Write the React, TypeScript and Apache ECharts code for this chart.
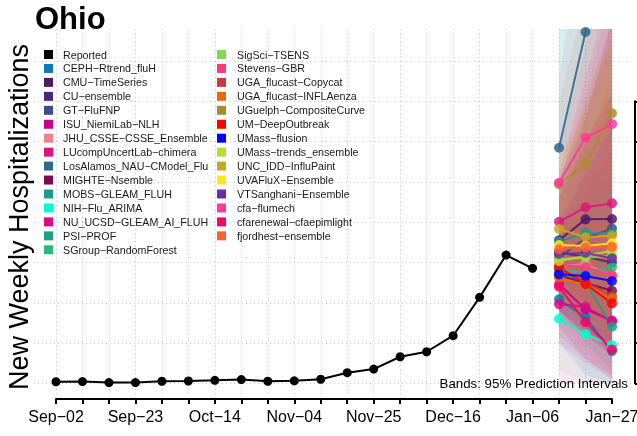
import React, { useEffect, useRef } from "react";
import * as echarts from "echarts";

const dates = [
  "Sep-02", "Sep-09", "Sep-16", "Sep-23", "Sep-30", "Oct-07", "Oct-14", "Oct-21",
  "Oct-28", "Nov-04", "Nov-11", "Nov-18", "Nov-25", "Dec-02", "Dec-09", "Dec-16",
  "Dec-23", "Dec-30", "Jan-06", "Jan-13", "Jan-20", "Jan-27",
];
const reported = [20, 22, 10, 9, 26, 29, 37, 47, 26, 31, 51, 132, 177, 330, 392, 591, 1067, 1592, 1427];
const forecastDates = ["Jan-13", "Jan-20", "Jan-27"];

const models = [
  "CEPH-Rtrend_fluH", "CMU-TimeSeries", "CU-ensemble", "GT-FluFNP", "ISU_NiemiLab-NLH",
  "JHU_CSSE-CSSE_Ensemble", "LUcompUncertLab-chimera", "LosAlamos_NAU-CModel_Flu",
  "MIGHTE-Nsemble", "MOBS-GLEAM_FLUH", "NIH-Flu_ARIMA", "NU_UCSD-GLEAM_AI_FLUH", "PSI-PROF",
  "SGroup-RandomForest", "SigSci-TSENS", "Stevens-GBR", "UGA_flucast-Copycat",
  "UGA_flucast-INFLAenza", "UGuelph-CompositeCurve", "UM-DeepOutbreak", "UMass-flusion",
  "UMass-trends_ensemble", "UNC_IDD-InfluPaint", "UVAFluX-Ensemble", "VTSanghani-Ensemble",
  "cfa-flumech", "cfarenewal-cfaepimlight", "fjordhest-ensemble",
];
const modelColors = [
  "#0b7ab5", "#4b1a6b", "#472a7a", "#3b4f8a", "#c9008a",
  "#e8858f", "#e0157f", "#2d6a8e",
  "#7a0a55", "#1e9a8a", "#00ffd0", "#dd0a85", "#1fa085",
  "#2db87a", "#82d94a", "#ff3a7a", "#cc3a3a",
  "#e86a00", "#ab8b30", "#ff0000", "#0000ff",
  "#b0e030", "#c8a820", "#ffe620", "#6a2fa0",
  "#ff3a9a", "#ff0066", "#ff6030",
];
// median forecasts for Jan-13, Jan-20, Jan-27
const median = [
  [1042, 820, 400], [1776, 2035, 2039], [1620, 1570, 1500], [1560, 1800, 1920], [1230, 920, 780],
  [1450, 1480, 1330], [2005, 2184, 2234], [2924, 4360, 6500],
  [1340, 1245, 1149], [1757, 1869, 1860], [801, 608, 474], [984, 951, 764], [1381, 1257, 702],
  [1400, 1380, 1440], [1540, 1560, 1580], [1470, 1440, 1340], [1420, 1260, 1080],
  [1310, 1220, 1055], [2470, 2725, 3351], [1440, 1232, 993], [1353, 1332, 1270],
  [1518, 1580, 1646], [1915, 1812, 1832], [1716, 1704, 1737], [1605, 1617, 1551],
  [2489, 3048, 3218], [1200, 760, 420], [1663, 1688, 1695],
];
const lower95 = [
  [500, 100, 0], [1200, 1000, 700], [1000, 700, 400], [1000, 800, 500], [700, 300, 50],
  [800, 400, 100], [1300, 1000, 700], [1800, 2500, 3000],
  [900, 600, 350], [1200, 1000, 700], [150, 30, 0], [500, 250, 50], [900, 500, 150],
  [900, 600, 400], [1000, 700, 450], [900, 600, 350], [600, 300, 100],
  [850, 600, 350], [1700, 1500, 1500], [1050, 700, 400], [900, 650, 400],
  [1000, 800, 600], [1200, 900, 600], [1000, 700, 500], [1100, 850, 600],
  [1200, 800, 300], [0, 0, 0], [1150, 950, 700],
];
const upper95 = [
  [1700, 2200, 2600], [2500, 3500, 4500], [2300, 3000, 3800], [2300, 3300, 4500], [2000, 2800, 3600],
  [2500, 3600, 4800], [2900, 4200, 5500], [4600, 7000, 10000],
  [1900, 2400, 2900], [2500, 3300, 4200], [4600, 5500, 6500], [1800, 2600, 3300], [1900, 2300, 2200],
  [2000, 2500, 3000], [2200, 3000, 3800], [2300, 3300, 4500], [2500, 3400, 4300],
  [1900, 2500, 3000], [3500, 4800, 6200], [1900, 2000, 2000], [2000, 2600, 3200],
  [2300, 3200, 4200], [2800, 3400, 4200], [2700, 3500, 4400], [2300, 3000, 3600],
  [3800, 5800, 7800], [2600, 3800, 5000], [2300, 3000, 3700],
];
const gridTicks = [0, 4000, 500];
const rightAxisRange = [0, 3500, 500];

const FONT = "'Liberation Sans', Arial, Helvetica, sans-serif";
const dash = (s: string) => s.replace(/-/g, "\u2212");

export default function App() {
  const ref = useRef<HTMLDivElement>(null);
  useEffect(() => {
    if (!ref.current) return;
    const chart = echarts.init(ref.current, undefined, { renderer: "svg" });
    const fIdx = forecastDates.map((d) => dates.indexOf(d));

    const bandSeries: any = {
      type: "custom",
      name: "bands",
      xAxisIndex: 0,
      yAxisIndex: 0,
      clip: true,
      z: 2,
      silent: true,
      data: models.map((_, i) => [fIdx[0], 0, i]),
      encode: { x: 0, y: 1 },
      renderItem: (params: any, api: any) => {
        const m = api.value(2);
        const pts: number[][] = [];
        for (let h = 0; h < fIdx.length; h++) pts.push(api.coord([fIdx[h], upper95[m][h]]));
        for (let h = fIdx.length - 1; h >= 0; h--) pts.push(api.coord([fIdx[h], lower95[m][h]]));
        return {
          type: "polygon",
          shape: { points: pts },
          style: { fill: echarts.color.modifyAlpha(modelColors[m], 0.1), stroke: "none" },
        };
      },
    };

    const modelSeries = models.map((name, i) => ({
      type: "line",
      name,
      xAxisIndex: 0,
      yAxisIndex: 0,
      data: forecastDates.map((d, h) => [dates.indexOf(d), median[i][h]]),
      symbol: "circle",
      symbolSize: 10,
      color: modelColors[i],
      itemStyle: { color: modelColors[i], opacity: 0.85 },
      lineStyle: { color: modelColors[i], width: 2, opacity: 0.9 },
      z: 3,
      clip: true,
    }));

    const option: any = {
      animation: false,
      textStyle: { fontFamily: FONT },
      grid: [
        { left: 56, right: 25, top: 29, bottom: 40, outerBoundsMode: "none", containLabel: false },
        { left: 34, right: 3, top: 61, bottom: 52.65, outerBoundsMode: "none", containLabel: false },
        { left: 634, right: 2, top: 101.3, bottom: 52.65, outerBoundsMode: "none", containLabel: false },
      ],
      xAxis: [
        {
          type: "category",
          gridIndex: 0,
          data: dates,
          boundaryGap: false,
          offset: 3,
          axisLine: { onZero: false, lineStyle: { color: "#000", width: 2 } },
          axisTick: { interval: 0, length: 5, lineStyle: { color: "#000", width: 2 } },
          axisLabel: {
            interval: 2,
            fontSize: 16,
            color: "#000",
            margin: 9,
            fontFamily: FONT,
            hideOverlap: false,
            formatter: (v: string) => dash(v),
          },
          splitLine: {
            show: true,
            interval: 0,
            lineStyle: { color: "#c8c8c8", type: [1, 3], width: 1 },
          },
        },
        { type: "value", gridIndex: 1, show: false, min: 0, max: 1 },
        { type: "value", gridIndex: 2, show: false, min: 0, max: 1 },
      ],
      yAxis: [
        { type: "value", gridIndex: 0, min: -157, max: 4397, show: false },
        {
          type: "value",
          gridIndex: 1,
          min: gridTicks[0],
          max: gridTicks[1],
          interval: gridTicks[2],
          axisLine: { show: false },
          axisTick: { show: false },
          axisLabel: { show: false },
          splitLine: { show: true, lineStyle: { color: "#c8c8c8", type: [1, 3], width: 1 } },
        },
        {
          type: "value",
          gridIndex: 2,
          position: "right",
          min: rightAxisRange[0],
          max: rightAxisRange[1],
          interval: rightAxisRange[2],
          axisLine: { show: true, onZero: false, lineStyle: { color: "#000", width: 2 } },
          axisTick: { show: true, inside: false, length: 4, lineStyle: { color: "#000", width: 2 } },
          axisLabel: { show: false },
          splitLine: { show: false },
        },
      ],
      legend: [
        {
          data: ["Reported", ...models.slice(0, 14)].map((n) => ({ name: n })),
          orient: "vertical",
          left: 44,
          top: 49,
          padding: 0,
          itemWidth: 9,
          itemHeight: 9,
          itemGap: 2.95,
          icon: "rect",
          selectedMode: false,
          itemStyle: { opacity: 1 },
          formatter: (n: string) => dash(n),
          textStyle: { fontSize: 10.7, color: "#1a1a1a", lineHeight: 10, padding: [0, 0, 0, 5], fontFamily: FONT },
        },
        {
          data: models.slice(14).map((n) => ({ name: n })),
          orient: "vertical",
          left: 217,
          top: 49,
          padding: 0,
          itemWidth: 9,
          itemHeight: 9,
          itemGap: 2.95,
          icon: "rect",
          selectedMode: false,
          itemStyle: { opacity: 1 },
          formatter: (n: string) => dash(n),
          textStyle: { fontSize: 10.7, color: "#1a1a1a", lineHeight: 10, padding: [0, 0, 0, 6], fontFamily: FONT },
        },
      ],
      graphic: [
        {
          type: "text",
          left: 35,
          top: 3,
          style: { text: "Ohio", fontSize: 31, fontWeight: "bold", fill: "#000", fontFamily: FONT },
          z: 10,
        },
        {
          type: "text",
          x: 19,
          y: 217,
          rotation: Math.PI / 2,
          style: {
            text: "New Weekly Hospitalizations",
            fontSize: 27,
            fill: "#000",
            align: "center",
            verticalAlign: "middle",
            fontFamily: FONT,
          },
          z: 10,
        },
        {
          type: "text",
          x: 628,
          y: 383,
          style: {
            text: "Bands: 95% Prediction Intervals",
            fontSize: 13.3,
            fill: "#000",
            align: "right",
            verticalAlign: "middle",
            fontFamily: FONT,
          },
          z: 10,
        },
      ],
      series: [
        bandSeries,
        {
          type: "line",
          name: "Reported",
          xAxisIndex: 0,
          yAxisIndex: 0,
          data: reported,
          symbol: "circle",
          symbolSize: 9,
          color: "#000",
          itemStyle: { color: "#000" },
          lineStyle: { color: "#000", width: 2 },
          z: 4,
        },
        ...modelSeries,
      ],
    };
    chart.setOption(option);
    return () => chart.dispose();
  }, []);
  return (
    <div
      ref={ref}
      style={{ position: "fixed", left: 0, top: 0, width: 637, height: 436 }}
    />
  );
}
